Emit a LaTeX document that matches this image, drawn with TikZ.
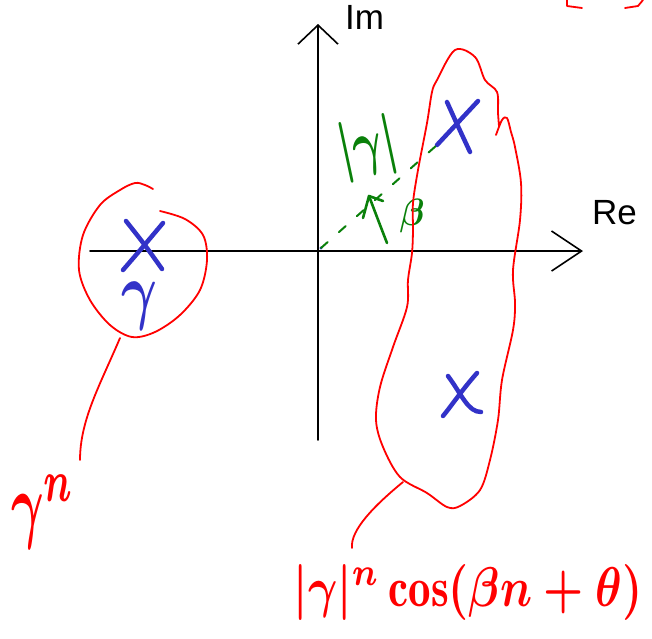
\documentclass[tikz,border=0pt]{standalone}
\usepackage{fontspec}
\usetikzlibrary{arrows.meta}
\newfontfamily\axisfont{Liberation Sans}
\definecolor{pred}{RGB}{255,0,0}
\definecolor{pblue}{RGB}{50,50,200}
\definecolor{pgreen}{RGB}{10,128,10}
\begin{document}
\begin{tikzpicture}[x=1pt,y=-1pt, line cap=round, line join=round,
  axis/.style={black,line width=1.6pt},
  redpen/.style={pred,line width=1.8pt},
  bluepen/.style={pblue,line width=4.5pt},
  greenpen/.style={pgreen,line width=2.6pt},
  axlabel/.style={font=\axisfont\fontsize{35}{35}\selectfont, inner sep=0pt, anchor=base west},
  hand/.style={inner sep=0pt}]
\useasboundingbox (0,0) rectangle (652,638);
% axes
\coordinate (xl) at (90,251);
\coordinate (xr) at (583,251);
\coordinate (yb) at (318,440);
\coordinate (yt) at (318,24);
\draw[axis,-{Straight Barb[length=30pt,width=40pt]}] (xl) -- (xr);
\draw[axis,-{Straight Barb[length=19pt,width=40pt]}] (yb) -- (yt);
\node[axlabel] (im) at (345,29) {Im};
\node[axlabel] (re) at (592,224) {Re};
% blue crosses
\draw[bluepen] (437,145) -- (478,101);
\draw[bluepen] (447,102) .. controls (456,122) .. (470,152);
\draw[bluepen] (126,221) .. controls (145,245) .. (162,269);
\draw[bluepen] (163,223) .. controls (142,248) .. (123,270);
\draw[bluepen] (448,376) .. controls (462,395) and (468,412) .. (481,412);
\draw[bluepen] (477,373) .. controls (462,390) and (452,405) .. (443,416);
\node[hand, text=pblue] (gb) at (139,306) {\scalebox{5.5}[7.5]{\boldmath$\gamma$}};
% origin dot and dashed modulus line
\coordinate (O) at (321,248);
\coordinate (d1) at (437,145);
\fill[pblue] (O) circle (1.6pt);
\draw[pgreen, line width=2pt, dash pattern=on 9pt off 15pt] (O) -- (d1);
% green labels and angle arrow
\node[hand, text=pgreen, rotate=12] (mod) at (368,148) {\scalebox{4.6}[6.2]{\boldmath$|\gamma|$}};
\node[hand, text=pgreen] (beta) at (412,216) {\scalebox{3.6}[3.8]{\boldmath$\beta$}};
\coordinate (as) at (387,243);
\coordinate (at) at (369,196);
\draw[greenpen] (as) .. controls (380,225) .. (at);
\draw[greenpen] (363,218) -- (at) -- (383,201);
% left red loop
\draw[redpen] plot[smooth, tension=0.55] coordinates {(160,211) (185,219) (203,235) (207,260) (200,290) (180,315) (155,332) (132,337) (110,325) (90,300) (79,270) (83,235) (100,205) (120,190) (135,183) (145,185) (153,189)};
\coordinate (lc) at (120,338);
\coordinate (lc2) at (80,460);
\draw[redpen] (lc) .. controls (100,385) and (80,420) .. (lc2);
\node[hand, text=pred] (gn) at (43,512) {\scalebox{5}[8.5]{\boldmath$\gamma^{n}$}};
% big red blob
\draw[redpen] plot[smooth, tension=0.55] coordinates {(499,126) (498,113) (497,92) (485,80) (475,57) (455,50) (437,80) (432,92) (427,123) (418,170) (413,203) (413,230) (412,253) (408,280) (407,307) (393,347) (380,387) (376,420) (383,447) (400,477) (427,493) (447,507) (460,506) (480,490) (490,460) (498,420) (502,380) (513,330) (515,303) (513,270) (520,220) (521,183) (515,147) (511,132) (507,118) (502,120) (496,135)};
\coordinate (bc) at (403,482);
\coordinate (bc2) at (352,548);
\draw[redpen] (bc) .. controls (375,505) and (350,530) .. (bc2);
\node[hand, text=pred] (formula) at (468,592) {\scalebox{4.5}[5.6]{\boldmath$|\gamma|^{n}\cos(\beta n+\theta)$}};
% cut-off red strokes at top right
\draw[redpen] (567,0) -- (567,6) -- (582,8);
\draw[redpen] (625,8) -- (638,6) -- (643,0);
\end{tikzpicture}
\end{document}
